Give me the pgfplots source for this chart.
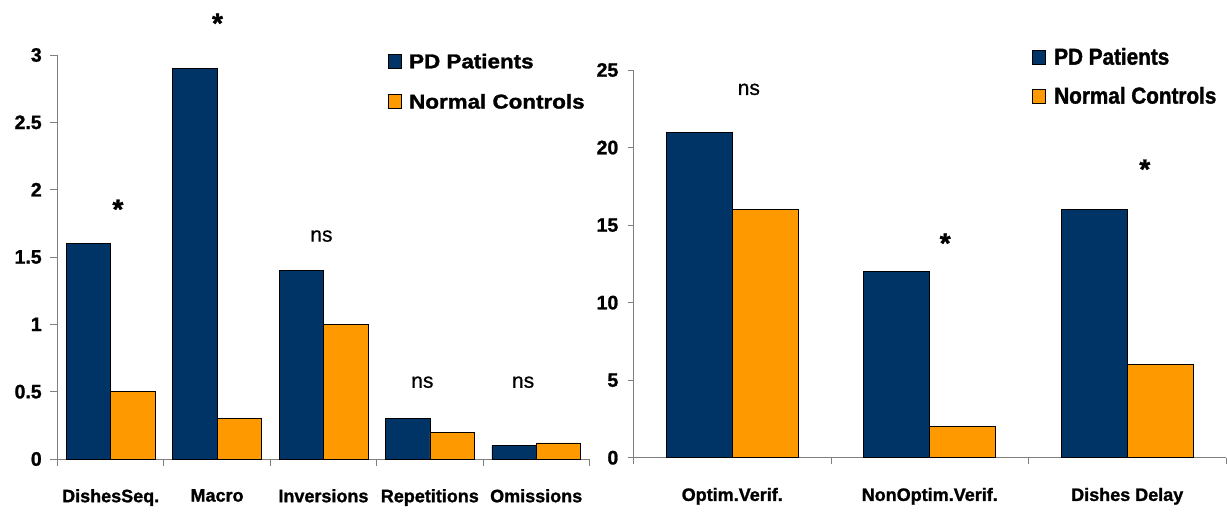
\documentclass[border=0pt]{standalone}
\usepackage{fontspec}
\setmainfont{Liberation Sans}[BoldFeatures={FakeBold=1.2}]
\newfontfamily\legLfont{Liberation Sans}[FakeStretch=1.12, BoldFeatures={FakeBold=1.5}]
\newfontfamily\legRfont{Liberation Sans}[FakeStretch=0.9, BoldFeatures={FakeBold=1.5}]
\newfontfamily\nsfont{Liberation Sans}[FakeBold=0.7]
\usepackage{pgfplots}
\pgfplotsset{compat=1.18}
\definecolor{pdblue}{RGB}{0,51,102}
\definecolor{ncorange}{RGB}{255,153,0}
\definecolor{axgray}{RGB}{128,128,128}
\pgfplotsset{
  mybars/.style={
    scale only axis, anchor=south west, clip=false,
    axis x line*=bottom, axis y line*=left,
    axis line style={axgray, line width=0.8pt},
    tick align=outside,
    tick style={axgray, line width=0.8pt},
    xticklabels={},
    extra x tick style={major tick length=0pt},
    xticklabel style={inner sep=0pt, anchor=north, font=\bfseries\fontsize{18}{18}\selectfont},
    xticklabel shift=30pt,
    yticklabel style={inner sep=0pt, anchor=east, font=\bfseries\fontsize{19.5}{20}\selectfont},
    legend cell align=left,
    legend image code/.code={\path[draw=black, line width=0.6pt, ##1] (0pt,0pt) rectangle (13pt,14pt);},
  },
  pdbar/.style={ybar, fill=pdblue, draw=black, line width=0.6pt},
  ncbar/.style={ybar, fill=ncorange, draw=black, line width=0.6pt},
}
\begin{document}
\begin{tikzpicture}
\useasboundingbox (0,0) rectangle (1227pt,512pt);
% ---------- left panel ----------
\begin{axis}[mybars,
  at={(57.5pt,53pt)}, width=531.9pt, height=404pt,
  xmin=-0.5, xmax=4.5, ymin=0, ymax=3,
  major tick length=7pt,
  yticklabel shift=8.6pt,
  ytick={0,0.5,1,1.5,2,2.5,3}, yticklabels={0,0.5,1,1.5,2,2.5,3},
  xtick={-0.5,0.5,1.5,2.5,3.5,4.5},
  extra x ticks={0,1,2,3,4},
  extra x tick labels={DishesSeq.,Macro,Inversions,Repetitions,Omissions},
  legend style={at={(axis description cs:0.6205,1.003)}, anchor=north west,
    draw=none, fill=none, inner sep=0pt, outer sep=0pt, row sep=25.5pt,
    font=\legLfont\bfseries\fontsize{20}{20}\selectfont,
    nodes={inner sep=0pt, text depth=0pt},
    cells={anchor=base west},
    /tikz/every odd column/.style={column sep=8pt}},
]
\addplot[pdbar, bar width=0.417, bar shift=-0.2085] coordinates {(0,1.6) (1,2.9) (2,1.4) (3,0.3) (4,0.1)};
\addplot[ncbar, bar width=0.417, bar shift=0.2085] coordinates {(0,0.5) (1,0.3) (2,1.0) (3,0.2) (4,0.12)};
\legend{PD Patients, Normal Controls}
\node[font=\bfseries\fontsize{28}{28}\selectfont, anchor=north, inner sep=0pt] at (axis cs:0.068,1.928) {*};
\node[font=\bfseries\fontsize{28}{28}\selectfont, anchor=north, inner sep=0pt] at (axis cs:1.004,3.309) {*};
\node[font=\nsfont\fontsize{21}{21}\selectfont, anchor=base, inner sep=0pt] at (axis cs:1.981,1.614) {ns};
\node[font=\nsfont\fontsize{21}{21}\selectfont, anchor=base, inner sep=0pt] at (axis cs:2.930,0.529) {ns};
\node[font=\nsfont\fontsize{21}{21}\selectfont, anchor=base, inner sep=0pt] at (axis cs:3.877,0.529) {ns};
\end{axis}
% ---------- right panel ----------
\begin{axis}[mybars,
  at={(633.5pt,54.3pt)}, width=592.5pt, height=387.7pt,
  xmin=-0.5, xmax=2.5, ymin=0, ymax=25,
  major tick length=6pt,
  yticklabel shift=9pt,
  ytick={0,5,10,15,20,25}, yticklabels={0,5,10,15,20,25},
  xtick={-0.5,0.5,1.5,2.5},
  extra x ticks={0,1,2},
  extra x tick labels={Optim.Verif.,NonOptim.Verif.,Dishes Delay},
  legend style={at={(axis description cs:0.672,1.0568)}, anchor=north west,
    draw=none, fill=none, inner sep=0pt, outer sep=0pt, row sep=22pt,
    font=\legRfont\bfseries\fontsize{23}{23}\selectfont,
    nodes={inner sep=0pt, text depth=0pt},
    cells={anchor=base west},
    /tikz/every odd column/.style={column sep=9pt}},
]
\addplot[pdbar, bar width=0.334, bar shift=-0.167] coordinates {(0,21) (1,12) (2,16)};
\addplot[ncbar, bar width=0.334, bar shift=0.167] coordinates {(0,16) (1,2) (2,6)};
\legend{PD Patients, Normal Controls}
\node[font=\nsfont\fontsize{21}{21}\selectfont, anchor=base, inner sep=0pt] at (axis cs:0.084,23.39) {ns};
\node[font=\bfseries\fontsize{28}{28}\selectfont, anchor=north, inner sep=0pt] at (axis cs:1.078,14.47) {*};
\node[font=\bfseries\fontsize{28}{28}\selectfont, anchor=north, inner sep=0pt] at (axis cs:2.089,19.24) {*};
\end{axis}
\end{tikzpicture}
\end{document}
